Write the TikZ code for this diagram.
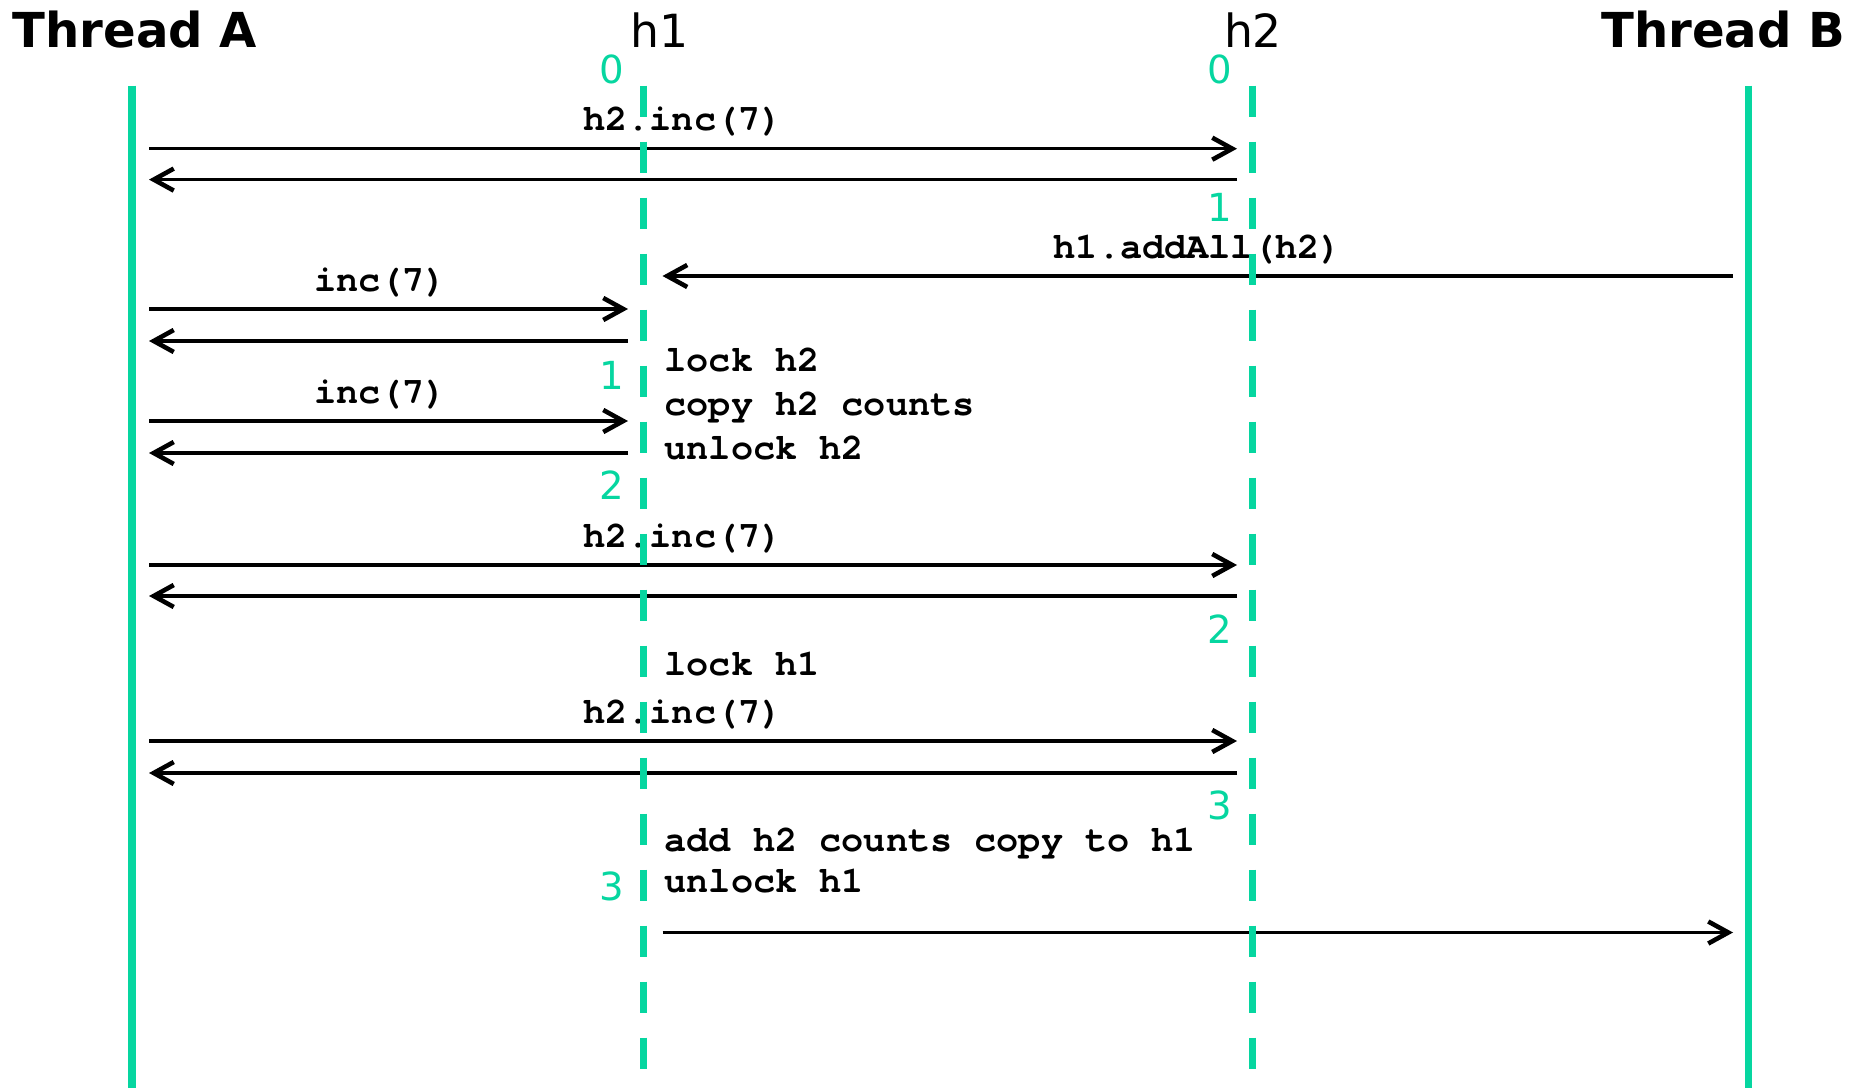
\documentclass[tikz,border=0pt]{standalone}
\usepackage{fontspec}
\setmainfont{DejaVu Sans}
\newfontfamily\codefont{texgyrecursor}[Extension=.otf, UprightFont=*-regular, BoldFont=*-bold]
\usepackage{tikz}
\usetikzlibrary{arrows.meta}
\pgfdeclarelayer{bg}
\pgfsetlayers{bg,main}
\definecolor{lifegreen}{RGB}{6,214,160}
\tikzset{
    every node/.style={inner sep=0mm},
    thread/.style={draw=lifegreen, line width=2.2pt},
    object/.style={thread, dash pattern=on 3.1mm off 2.5mm},
    msg/.style={line width=0.95pt, -{Straight Barb[length=2mm,width=2.2mm,line width=1.3pt]}},
    title/.style={font=\bfseries\fontsize{13.7}{16}\selectfont},
    objname/.style={font=\fontsize{13}{16}\selectfont},
    count/.style={text=lifegreen, font=\fontsize{11}{13}\selectfont},
    code/.style={font=\codefont\bfseries\fontsize{10.5}{12}\selectfont},
    msglabel/.style={code, anchor=base, yshift=1.8mm}
}

\begin{document}
\begin{tikzpicture}
    \useasboundingbox (0cm, 0cm) rectangle (18.65cm, -10.88cm);

    \node (tA) [title, anchor=west] at (0.12cm, -0.30cm) {Thread A};
    \node (h1) [objname] at (6.60cm, -0.30cm) {h1};
    \node (h2) [objname] at (12.53cm, -0.30cm) {h2};
    \node (tB) [title, anchor=east] at (18.46cm, -0.30cm) {Thread B};

    \coordinate (tAtop) at (1.32cm, -0.856cm);
    \coordinate (tAbot) at (1.32cm, -10.88cm);
    \coordinate (h1top) at (6.435cm, -0.856cm);
    \coordinate (h1bot) at (6.435cm, -10.88cm);
    \coordinate (h2top) at (12.525cm, -0.856cm);
    \coordinate (h2bot) at (12.525cm, -10.88cm);
    \coordinate (tBtop) at (17.485cm, -0.856cm);
    \coordinate (tBbot) at (17.485cm, -10.88cm);

    \draw[thread] (tAtop) -- (tAbot);
    \draw[object] (h1top) -- (h1bot);
    \draw[object] (h2top) -- (h2bot);
    \draw[thread] (tBtop) -- (tBbot);

    % counts
    \node (c10) [count] at (6.12cm, -0.69cm) {0};
    \node (c20) [count] at (12.20cm, -0.69cm) {0};
    \node (c21) [count] at (12.20cm, -2.07cm) {1};
    \node (c11) [count] at (6.12cm, -3.75cm) {1};
    \node (c12) [count] at (6.12cm, -4.85cm) {2};
    \node (c22) [count] at (12.20cm, -6.29cm) {2};
    \node (c23) [count] at (12.20cm, -8.05cm) {3};
    \node (c13) [count] at (6.12cm, -8.86cm) {3};

    \coordinate (l1) at (1.49cm, -1.487cm);
    \coordinate (r1) at (12.37cm, -1.487cm);
    \coordinate (l2) at (1.49cm, -1.796cm);
    \coordinate (r2) at (12.37cm, -1.796cm);
    \coordinate (l3) at (6.625cm, -2.76cm);
    \coordinate (r3) at (17.33cm, -2.76cm);
    \coordinate (l4) at (1.49cm, -3.09cm);
    \coordinate (r4) at (6.28cm, -3.09cm);
    \coordinate (l5) at (1.49cm, -3.41cm);
    \coordinate (r5) at (6.28cm, -3.41cm);
    \coordinate (l6) at (1.49cm, -4.21cm);
    \coordinate (r6) at (6.28cm, -4.21cm);
    \coordinate (l7) at (1.49cm, -4.53cm);
    \coordinate (r7) at (6.28cm, -4.53cm);
    \coordinate (l8) at (1.49cm, -5.65cm);
    \coordinate (r8) at (12.37cm, -5.65cm);
    \coordinate (l9) at (1.49cm, -5.96cm);
    \coordinate (r9) at (12.37cm, -5.96cm);
    \coordinate (l10) at (1.49cm, -7.41cm);
    \coordinate (r10) at (12.37cm, -7.41cm);
    \coordinate (l11) at (1.49cm, -7.73cm);
    \coordinate (r11) at (12.37cm, -7.73cm);
    \coordinate (l12) at (6.625cm, -9.325cm);
    \coordinate (r12) at (17.33cm, -9.325cm);

    \begin{pgfonlayer}{bg}
        \draw (l1) edge[msg] node[msglabel, xshift=-1mm] {h2.inc(7)} (r1);
        \draw (r2) edge[msg] (l2);
        \draw (r3) edge[msg] node[msglabel] {h1.addAll(h2)} (l3);
        \draw (l4) edge[msg] node[msglabel, xshift=-0.8mm] {inc(7)} (r4);
        \draw (r5) edge[msg] (l5);
        \draw (l6) edge[msg] node[msglabel, xshift=-0.8mm] {inc(7)} (r6);
        \draw (r7) edge[msg] (l7);
        \draw (l8) edge[msg] node[msglabel, xshift=-1mm] {h2.inc(7)} (r8);
        \draw (r9) edge[msg] (l9);
        \draw (l10) edge[msg] node[msglabel, xshift=-1mm] {h2.inc(7)} (r10);
        \draw (r11) edge[msg] (l11);
        \draw (l12) edge[msg] (r12);
    \end{pgfonlayer}

    % work done inside addAll
    \node (s1) [code, anchor=base west] at (6.64cm, -3.71cm) {lock h2};
    \node (s2) [code, anchor=base west] at (6.64cm, -4.15cm) {copy h2 counts};
    \node (s3) [code, anchor=base west] at (6.64cm, -4.59cm) {unlock h2};
    \node (s4) [code, anchor=base west] at (6.64cm, -6.75cm) {lock h1};
    \node (s5) [code, anchor=base west] at (6.64cm, -8.51cm) {add h2 counts copy to h1};
    \node (s6) [code, anchor=base west] at (6.64cm, -8.92cm) {unlock h1};
\end{tikzpicture}
\end{document}
